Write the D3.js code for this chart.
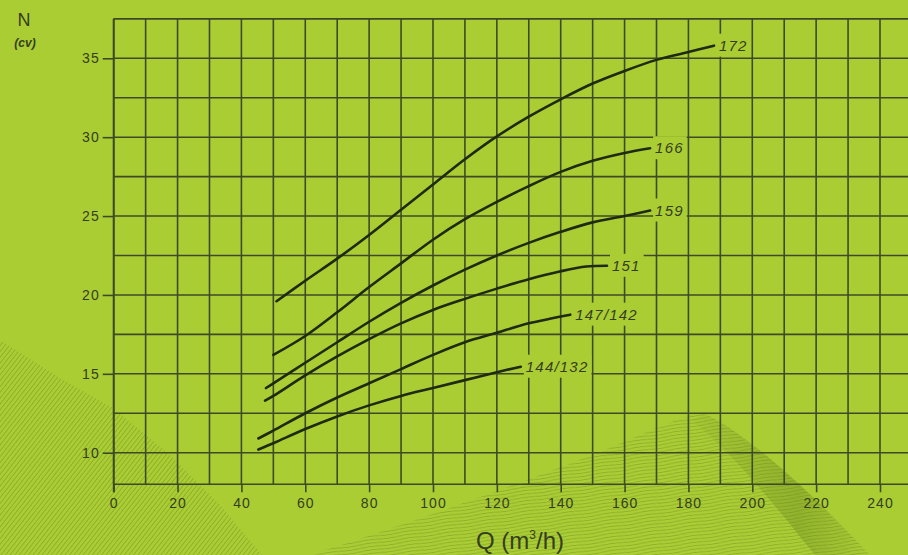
<!DOCTYPE html>
<html><head><meta charset="utf-8">
<script src="https://cdn.jsdelivr.net/npm/d3@7"></script>
<style>
html,body{margin:0;padding:0;background:#abcd34;}
svg{display:block;}
</style></head><body>
<svg id="chart" width="908" height="555"></svg>
<script>
// ---- data ----
const qTicks = [0,20,40,60,80,100,120,140,160,180,200,220,240];
const nTicks = [10,15,20,25,30,35];
const curveLabels = ["172","166","159","151","147/142","144/132"];

const curve172Q = [51,60,70,80,90,100,110,120,130,140,150,160,170,180,188];
const curve172N = [19.6,20.9,22.3,23.8,25.4,27.0,28.6,30.05,31.3,32.4,33.4,34.2,34.9,35.4,35.8];
const curve166Q = [50,60,70,80,90,100,110,120,130,140,150,160,168];
const curve166N = [16.2,17.4,18.9,20.5,22.0,23.5,24.8,25.9,26.9,27.8,28.5,29.0,29.3];
const curve159Q = [47.7,50,60,70,80,90,100,110,120,130,140,150,160,168];
const curve159N = [14.1,14.4,15.7,17.0,18.3,19.5,20.6,21.6,22.5,23.3,24.0,24.6,25.0,25.35];
const curve151Q = [47.4,50,60,70,80,90,100,110,120,130,140,148,154.5];
const curve151N = [13.3,13.6,14.9,16.1,17.2,18.2,19.05,19.75,20.4,21.0,21.5,21.8,21.85];
const curve147Q = [45.3,50,60,70,80,90,100,110,120,130,143];
const curve147N = [10.9,11.4,12.5,13.5,14.4,15.3,16.2,17.0,17.6,18.2,18.75];
const curve144Q = [45.3,50,60,70,80,90,100,110,120,127.5];
const curve144N = [10.2,10.6,11.5,12.3,13.0,13.6,14.1,14.6,15.1,15.45];

const seriesQ = [curve172Q,curve166Q,curve159Q,curve151Q,curve147Q,curve144Q];
const seriesN = [curve172N,curve166N,curve159N,curve151N,curve147N,curve144N];

// ---- setup ----
const BG = "#abcd34";
const GRID = "#3e4a26";
const INK = "#1f2a12";
const TXT = "#343e1f";

const svg = d3.select("#chart");
const x = d3.scaleLinear().domain([0,240]).range([113.7,880]);
const y = d3.scaleLinear().domain([10,35]).range([452.7,58.3]);
const nMin = 8, nMax = 37.5, qMaxGrid = 250;

svg.append("rect").attr("width",908).attr("height",555).attr("fill",BG);

// ---- decorative background ----
const defs = svg.append("defs");
const hatch = defs.append("pattern").attr("id","hatch").attr("patternUnits","userSpaceOnUse")
  .attr("width",3.6).attr("height",8).attr("patternTransform","rotate(38)");
hatch.append("line").attr("x1",0).attr("y1",0).attr("x2",0).attr("y2",8)
  .attr("stroke","#5f7d1c").attr("stroke-width",1.1).attr("stroke-opacity",0.65);
const waves = defs.append("pattern").attr("id","waves").attr("patternUnits","userSpaceOnUse")
  .attr("width",40).attr("height",3.4).attr("patternTransform","rotate(-8)");
waves.append("path").attr("d","M0,1.7 Q10,0.6 20,1.7 T40,1.7")
  .attr("fill","none").attr("stroke","#6a8a22").attr("stroke-width",0.8).attr("stroke-opacity",0.55);
const shade = defs.append("linearGradient").attr("id","shade").attr("x1","0").attr("y1","0").attr("x2","1").attr("y2","0");
shade.append("stop").attr("offset","0").attr("stop-color","#5d7a1a").attr("stop-opacity",0.05);
shade.append("stop").attr("offset","0.6").attr("stop-color","#5d7a1a").attr("stop-opacity",0.32);
shade.append("stop").attr("offset","1").attr("stop-color","#5d7a1a").attr("stop-opacity",0.0);

const deco = svg.append("g");
deco.append("path").attr("d","M0,340 L60,378 L113,408 L170,455 L220,505 L262,555 L0,555 Z")
  .attr("fill","url(#hatch)");
deco.append("path").attr("d","M310,555 C420,520 560,470 640,435 C670,422 690,414 705,414 C740,430 800,480 870,555 Z")
  .attr("fill","url(#waves)");
deco.append("path").attr("d","M705,414 C740,430 800,480 870,555 L815,555 C770,500 735,455 690,420 Z")
  .attr("fill","url(#shade)");

// ---- grid ----
const grid = svg.append("g").attr("stroke",GRID).attr("stroke-width",1.6).attr("fill","none");
const vLines = d3.range(0, qMaxGrid+1, 10);
grid.selectAll("line.v").data(vLines).join("line").attr("class","v")
  .attr("x1",d=>x(d)).attr("x2",d=>x(d)).attr("y1",y(nMax)).attr("y2",y(nMin));
const hLines = d3.range(10, nMax+0.01, 2.5).concat([nMin]);
grid.selectAll("line.h").data(hLines).join("line").attr("class","h")
  .attr("x1",x(0)).attr("x2",908).attr("y1",d=>y(d)).attr("y2",d=>y(d));

// ---- axes ----
const font = "'Liberation Sans', Arial, sans-serif";
const yAxis = svg.append("g").attr("transform",`translate(${x(0)},0)`)
  .call(d3.axisLeft(y).tickValues(nTicks).tickSize(11).tickPadding(3).tickFormat(d3.format("d")));
const xAxis = svg.append("g").attr("transform",`translate(0,${y(nMin)})`)
  .call(d3.axisBottom(x).tickValues(qTicks).tickSize(8).tickPadding(6).tickFormat(d3.format("d")));
[yAxis,xAxis].forEach(a=>{
  a.select(".domain").remove();
  a.selectAll(".tick line").attr("stroke",GRID).attr("stroke-width",1.6);
  a.selectAll(".tick text").attr("fill",TXT).attr("font-family",font)
    .attr("font-size",14).attr("letter-spacing","1px");
});
svg.append("line").attr("x1",x(0)).attr("x2",x(0)).attr("y1",y(nMax)).attr("y2",y(nMin)+8)
  .attr("stroke",GRID).attr("stroke-width",1.8);

// ---- axis titles ----
svg.append("text").attr("x",24).attr("y",26).attr("text-anchor","middle")
  .attr("font-family",font).attr("font-size",18).attr("fill",TXT).text("N");
svg.append("text").attr("x",25).attr("y",47).attr("text-anchor","middle")
  .attr("font-family",font).attr("font-size",12).attr("font-style","italic").attr("font-weight","bold")
  .attr("fill",TXT).text("(cv)");
const xt = svg.append("text").attr("x",520).attr("y",549).attr("text-anchor","middle")
  .attr("font-family",font).attr("font-size",24).attr("fill",TXT);
xt.append("tspan").text("Q (m");
xt.append("tspan").attr("font-size",12).attr("dy",-10).text("3");
xt.append("tspan").attr("dy",10).text("/h)");

// ---- curves ----
const line = d3.line().x(d=>x(d[0])).y(d=>y(d[1])).curve(d3.curveCatmullRom.alpha(0.5));
const knock = svg.append("g");
const curvesG = svg.append("g");
const labelsG = svg.append("g");

seriesQ.forEach((qs,i)=>{
  const pts = qs.map((q,j)=>[q, seriesN[i][j]]);
  curvesG.append("path").attr("d",line(pts)).attr("fill","none")
    .attr("stroke",INK).attr("stroke-width",2.6).attr("stroke-linecap","round");
  const last = pts[pts.length-1];
  const t = labelsG.append("text").attr("x",x(last[0])+5).attr("y",y(last[1])+5)
    .attr("font-family",font).attr("font-size",15).attr("font-style","italic")
    .attr("letter-spacing","1.2px").attr("fill",TXT).text(curveLabels[i]);
  const bb = t.node().getBBox();
  knock.append("rect").attr("x",bb.x-2).attr("y",bb.y-3).attr("width",bb.width+5).attr("height",bb.height+6)
    .attr("fill",BG);
});
</script>
</body></html>
